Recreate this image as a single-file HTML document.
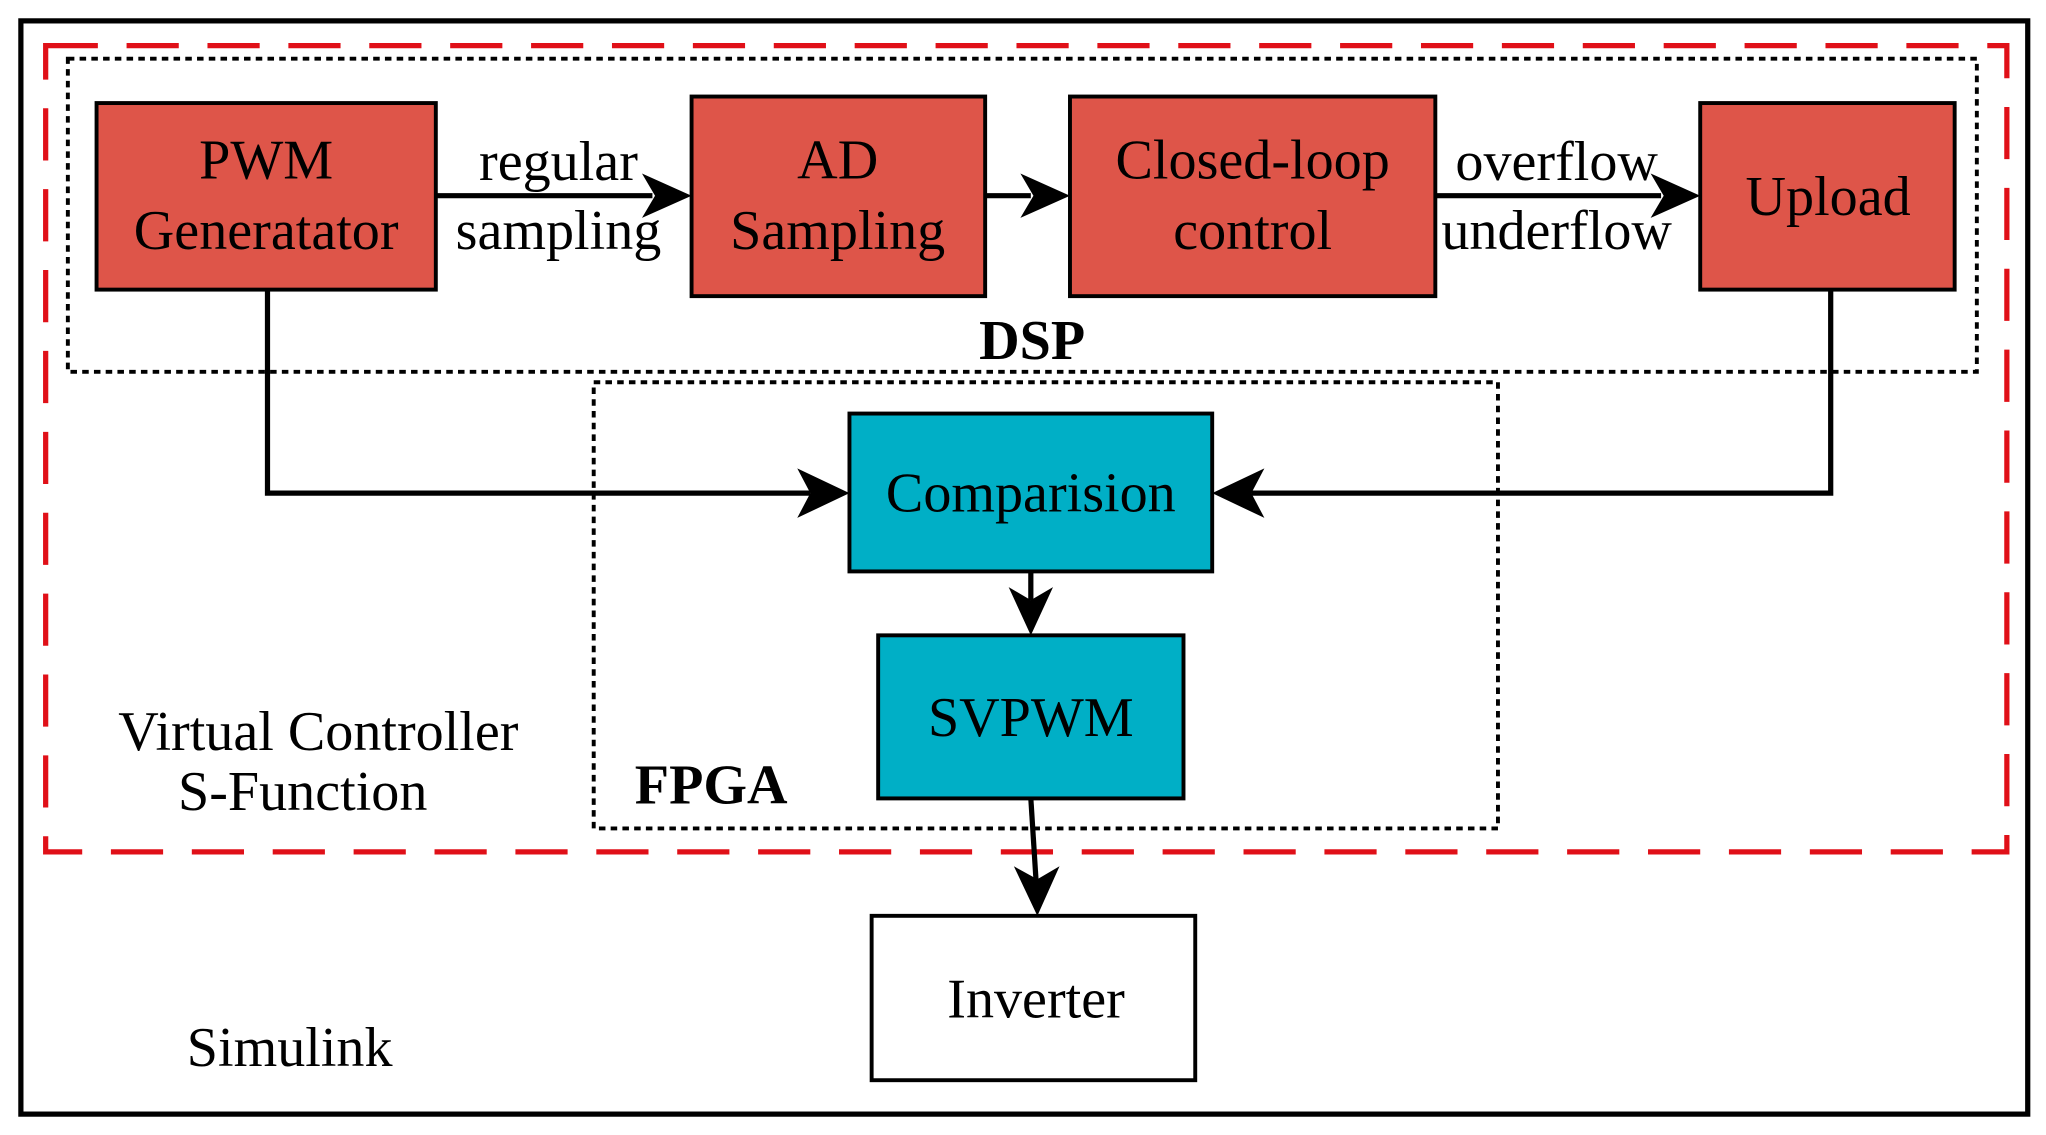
<!DOCTYPE html>
<html><head><meta charset="utf-8"><style>
html,body{margin:0;padding:0;background:#fff;}
svg{display:block;}
text{font-family:"Liberation Serif",serif;fill:#000;}
</style></head><body>
<svg width="2046" height="1135" viewBox="0 0 1568 870" preserveAspectRatio="none" xmlns="http://www.w3.org/2000/svg">
<rect x="16" y="16" width="1538" height="838" fill="#fff" stroke="#000" stroke-width="4"/>
<rect x="35" y="35" width="1503" height="618" fill="none" stroke="#e01018" stroke-width="4" stroke-dasharray="40,22"/>
<rect x="52" y="45" width="1463" height="240" fill="none" stroke="#000" stroke-width="3" stroke-dasharray="5,4"/>
<rect x="455" y="293" width="693" height="342" fill="none" stroke="#000" stroke-width="3" stroke-dasharray="5,4"/>

<g stroke="#000" stroke-width="3">
<rect x="74" y="79" width="260" height="143" fill="#de5549"/>
<rect x="530" y="74" width="225" height="153" fill="#de5549"/>
<rect x="820" y="74" width="280" height="153" fill="#de5549"/>
<rect x="1303" y="79" width="195" height="143" fill="#de5549"/>
<rect x="651" y="317" width="278" height="121" fill="#00afc6"/>
<rect x="673" y="487" width="234" height="125" fill="#00afc6"/>
<rect x="668" y="702" width="248" height="126" fill="#fff"/>
</g>

<g stroke="#000" stroke-width="4" fill="none">
<line x1="334" y1="150" x2="500" y2="150"/>
<line x1="755" y1="150" x2="790" y2="150"/>
<line x1="1100" y1="150" x2="1273" y2="150"/>
<polyline points="205,222 205,378 621,378"/>
<polyline points="1403,222 1403,378 959,378"/>
<line x1="790" y1="438" x2="790" y2="460"/>
<line x1="790" y1="612" x2="794" y2="675"/>
</g>
<g fill="#000">
<polygon points="530,150 492,133 502,150 492,167"/>
<polygon points="820,150 782,133 792,150 782,167"/>
<polygon points="1303,150 1265,133 1275,150 1265,167"/>
<polygon points="651,378 611,359 621,378 611,397"/>
<polygon points="929,378 969,359 959,378 969,397"/>
<polygon points="790,487 773,450 790,460 807,450"/>
<polygon points="795,702 777,664 795,674 812,664"/>
</g>

<g font-size="43" text-anchor="middle">
<text x="204" y="137">PWM</text>
<text x="204" y="191">Generatator</text>
<text x="642" y="137">AD</text>
<text x="642" y="191">Sampling</text>
<text x="960" y="137">Closed-loop</text>
<text x="960" y="191">control</text>
<text x="1401" y="165">Upload</text>
<text x="790" y="392">Comparision</text>
<text x="790" y="564">SVPWM</text>
<text x="794" y="780">Inverter</text>
<text x="428" y="138">regular</text>
<text x="428" y="191">sampling</text>
<text x="1193" y="138">overflow</text>
<text x="1193" y="191">underflow</text>
<text x="244" y="575">Virtual Controller</text>
<text x="232" y="621">S-Function</text>
<text x="222" y="817">Simulink</text>
<text x="791" y="275" font-weight="bold">DSP</text>
<text x="545" y="616" font-weight="bold">FPGA</text>
</g>
</svg>
</body></html>
